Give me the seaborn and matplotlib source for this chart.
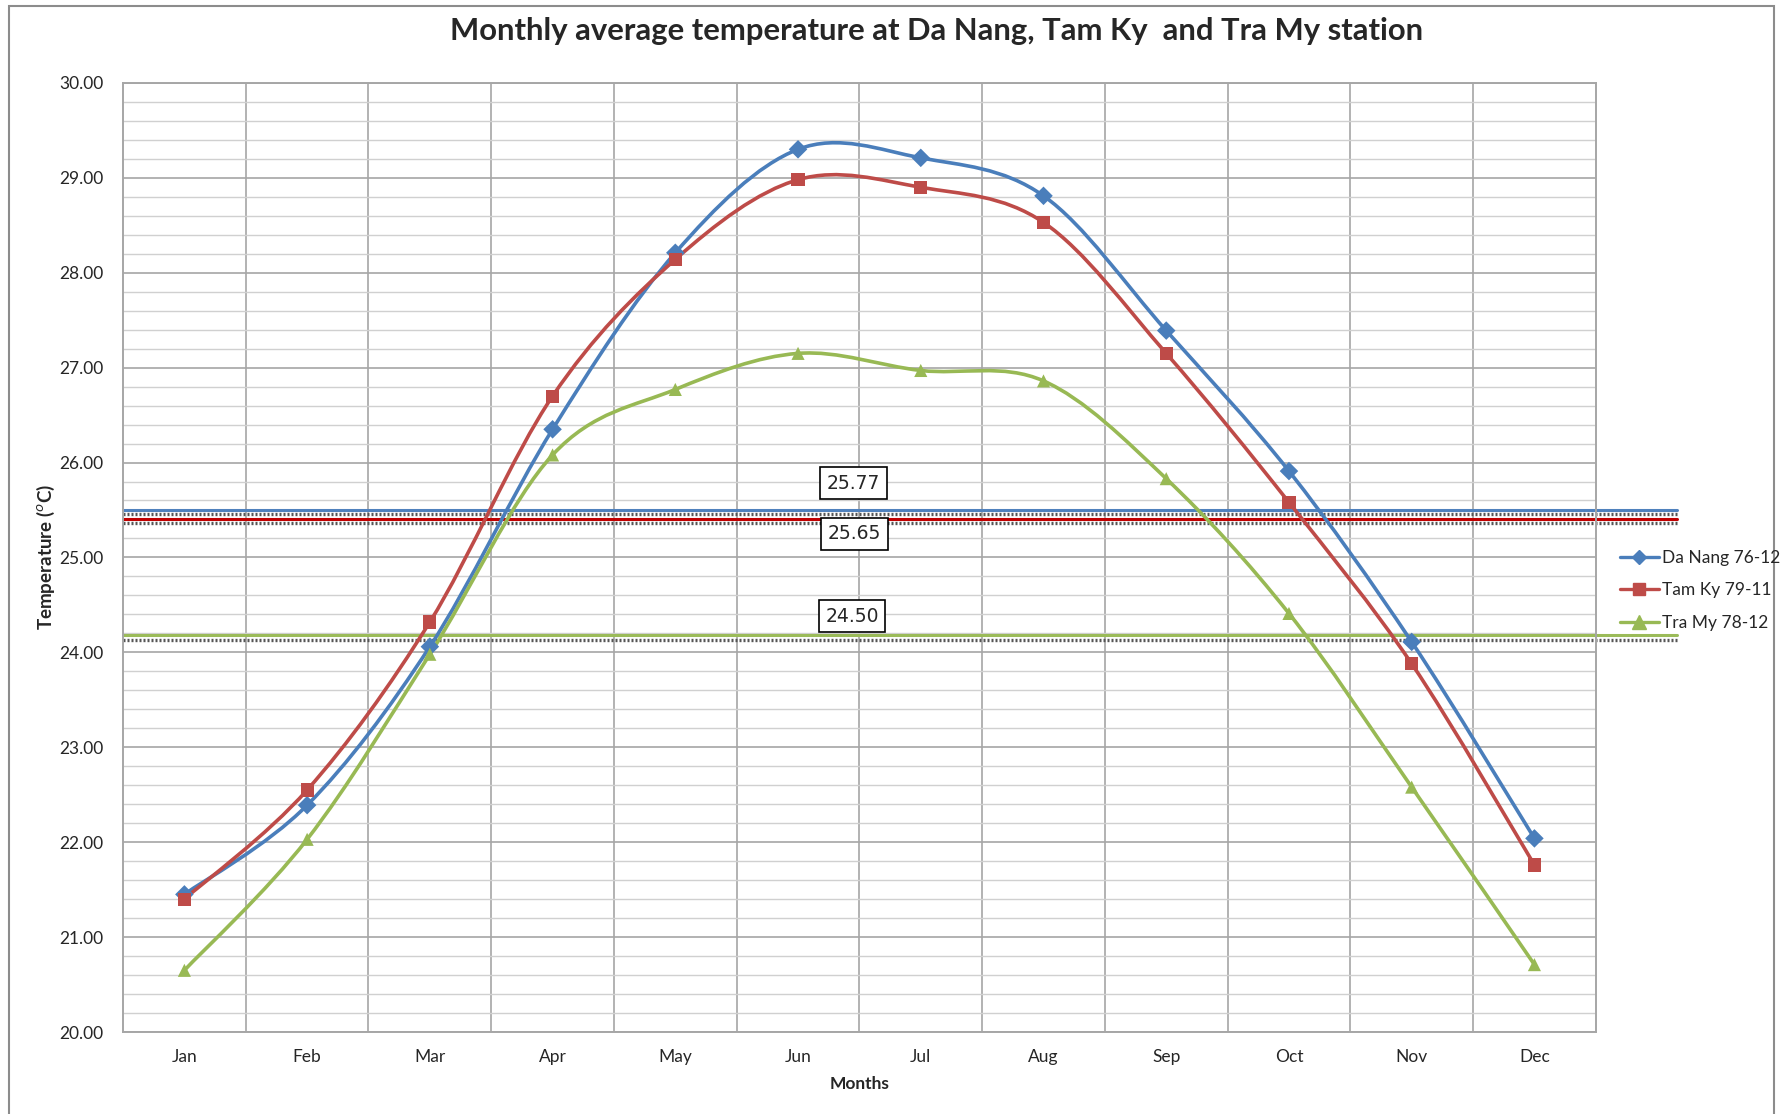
import numpy as np
import pandas as pd
import matplotlib
matplotlib.use("Agg")
import matplotlib.pyplot as plt
from matplotlib.path import Path
from matplotlib.patches import PathPatch, Rectangle
from matplotlib.lines import Line2D
import seaborn as sns

# data
months = ["Jan", "Feb", "Mar", "Apr", "May", "Jun", "Jul", "Aug", "Sep", "Oct", "Nov", "Dec"]
da_nang = [21.45, 22.39, 24.06, 26.35, 28.21, 29.30, 29.21, 28.81, 27.39, 25.91, 24.11, 22.04]
tam_ky = [21.40, 22.55, 24.32, 26.70, 28.14, 28.98, 28.90, 28.53, 27.15, 25.58, 23.88, 21.76]
tra_my = [20.65, 22.03, 23.98, 26.08, 26.77, 27.15, 26.97, 26.86, 25.83, 24.41, 22.58, 20.71]
stations = ["Da Nang 76-12", "Tam Ky 79-11", "Tra My 78-12"]

# mean lines (drawn level) and their box labels
mean_levels = [25.50, 25.41, 24.18]
mean_labels = ["25.77", "25.65", "24.50"]
label_pos = [(5.45, 25.78), (5.46, 25.25), (5.44, 24.38)]

colors = ["#4A7EBB", "#BE4B48", "#98B954"]
mean_colors = ["#4F81BD", "#C00000", "#9BBB59"]
markers = ["D", "s", "^"]
msizes = [9, 11, 13]

df = pd.DataFrame({
    "idx": list(range(12)) * 3,
    "temp": da_nang + tam_ky + tra_my,
    "station": [s for s in stations for _ in range(12)],
})

sns.set_style("white")
plt.rcParams["font.family"] = ["Lato", "DejaVu Sans"]

fig = plt.figure(figsize=(17.83, 11.14), dpi=100)
ax = fig.add_axes([0.069, 0.0736, 0.826, 0.852])

# outer chart border
fig.patches.append(Rectangle((0.005, -0.01), 0.99, 1.005, transform=fig.transFigure,
                             fill=False, edgecolor="#8c8c8c", lw=1.5))


def smooth_path(xs, ys):
    # Excel style smoothed line: catmull-rom converted to cubic bezier segments
    pts = np.column_stack([xs, ys]).astype(float)
    n = len(pts)
    verts = [pts[0]]
    codes = [Path.MOVETO]
    for i in range(n - 1):
        p0 = pts[i - 1] if i > 0 else pts[i]
        p1, p2 = pts[i], pts[i + 1]
        p3 = pts[i + 2] if i + 2 < n else pts[i + 1]
        c1 = p1 + (p2 - p0) / 6.0
        c2 = p2 - (p3 - p1) / 6.0
        verts += [c1, c2, p2]
        codes += [Path.CURVE4] * 3
    return Path(verts, codes)


# mean lines with the hatched shadow below them
for lvl, c in zip(mean_levels, mean_colors):
    ax.plot([-0.5, 12.16], [lvl - 0.045, lvl - 0.045], color="#555555", lw=2.4,
            linestyle=(0, (0.6, 0.6)), clip_on=False, zorder=2)
    ax.plot([-0.5, 12.16], [lvl, lvl], color=c, lw=2.2, clip_on=False, zorder=2.5)

for s, c in zip(stations, colors):
    sub = df[df["station"] == s]
    ax.add_patch(PathPatch(smooth_path(sub["idx"], sub["temp"]), facecolor="none",
                           edgecolor=c, lw=2.6, zorder=3))

sns.scatterplot(data=df, x="idx", y="temp", hue="station", style="station",
                palette=colors, markers=markers, s=110, edgecolor="none",
                legend=False, ax=ax, zorder=4)
# size tweak per series
for coll, ms in zip(ax.collections, msizes):
    coll.set_sizes([ms ** 2 * 1.1])

for txt, (x, y) in zip(mean_labels, label_pos):
    ax.text(x, y, txt, ha="center", va="center", fontsize=13.5, fontfamily=["DejaVu Sans"],
            bbox=dict(boxstyle="square,pad=0.35", fc="white", ec="black", lw=1.2), zorder=6)

ax.set_xlim(-0.5, 11.5)
ax.set_ylim(20, 30)
ax.set_xticks(range(12))
ax.set_xticklabels(months, fontsize=12.5)
ax.set_xticks(np.arange(0.5, 11.5, 1), minor=True)
ax.set_yticks(np.arange(20, 30.1, 1))
ax.set_yticklabels([f"{v:.2f}" for v in np.arange(20, 30.1, 1)], fontsize=12.5)
ax.set_yticks(np.arange(20, 30, 0.2), minor=True)
ax.tick_params(axis="both", which="both", length=0)
ax.tick_params(axis="y", pad=14)
ax.tick_params(axis="x", pad=12)

ax.grid(axis="y", which="major", color="#a6a6a6", lw=1.2, zorder=0)
ax.grid(axis="y", which="minor", color="#d0d0d0", lw=1.0, zorder=0)
ax.grid(axis="x", which="minor", color="#a6a6a6", lw=1.2, zorder=0)
ax.grid(axis="x", which="major", visible=False)
for sp in ax.spines.values():
    sp.set_color("#a6a6a6")
    sp.set_linewidth(1.4)

ax.set_xlabel("Months", fontsize=12.5, fontweight="bold", labelpad=8)
ax.set_ylabel("Temperature ($^{o}$C)", fontsize=13.5, fontweight="bold", labelpad=2)

fig.suptitle("Monthly average temperature at Da Nang, Tam Ky  and Tra My station",
             x=0.525, y=0.972, va="center", fontsize=22.3, fontweight="bold")

handles = [Line2D([], [], color=c, marker=m, markersize=ms * 0.75, lw=2.4)
           for c, m, ms in zip(colors, markers, msizes)]
fig.legend(handles, stations, loc="center left", bbox_to_anchor=(0.9, 0.47),
           frameon=False, fontsize=12.5, handlelength=2.2, handletextpad=0.2,
           labelspacing=0.95)

fig.savefig("out.png", dpi=100)
